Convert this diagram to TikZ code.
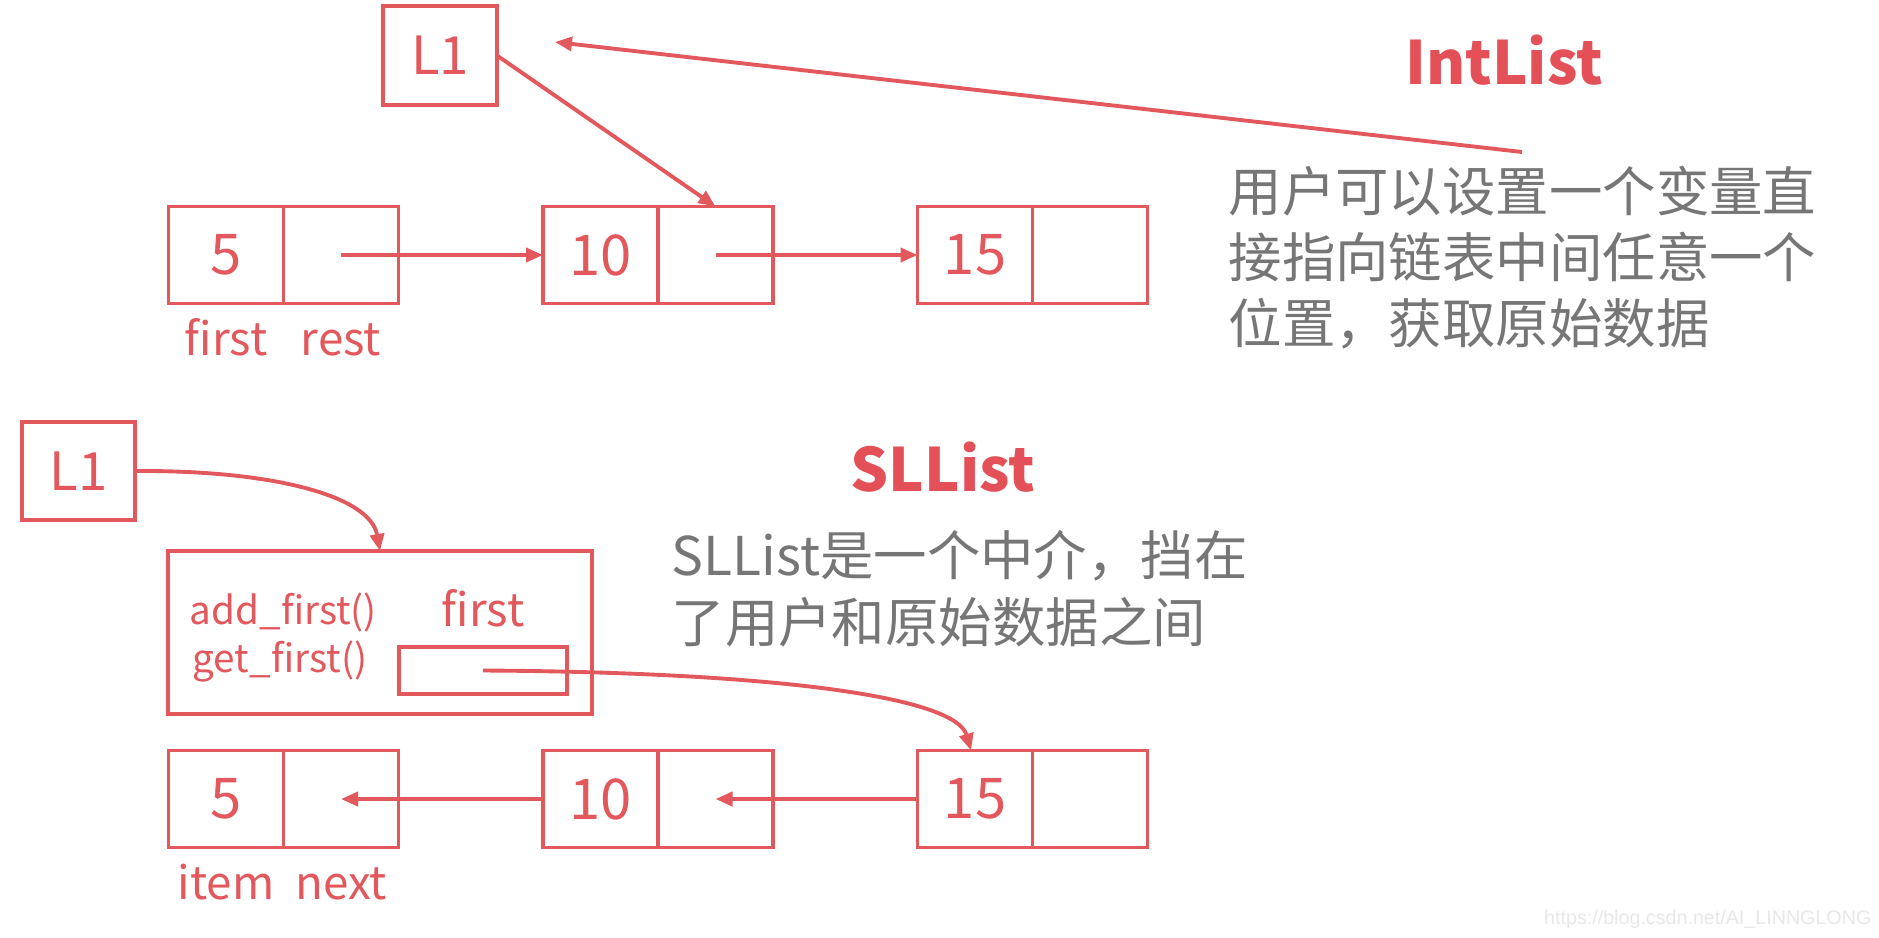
\documentclass[tikz,border=0pt]{standalone}
\usepackage{fontspec}
\setmainfont{Noto Sans CJK SC}
\newfontfamily\urlfont{Liberation Sans}
\usetikzlibrary{positioning,arrows.meta}

\begin{document}
\begin{tikzpicture}[
  cell/.style={draw=lred,line width=0.9pt,minimum width=1.15cm,minimum height=0.97cm,outer sep=0pt,inner sep=0pt,text=lred,font=\fontsize{16}{18}\selectfont},
  lbl/.style={text=lred,inner sep=0pt,text height=9.5pt,text depth=2pt,font=\fontsize{13}{15}\selectfont},
  arr/.style={draw=lred,line width=1.1pt,-{Triangle[length=1.7mm,width=1.4mm]}},
  note/.style={text=ngray,align=left,inner sep=0pt,font=\fontsize{15.2}{18.8}\selectfont},
  title/.style={text=tred,inner sep=0pt,font=\fontsize{17}{20}\selectfont\bfseries}]
% Define colours
\definecolor{lred}{RGB}{226,88,92}
\definecolor{tred}{RGB}{228,80,88}
\definecolor{ngray}{RGB}{118,118,118}

% Fix the canvas
\path[fill=white] (0,0) rectangle (18.79,-9.37);

% IntList: naked recursive nodes
\node[cell,minimum width=1.14cm,minimum height=0.99cm,font=\fontsize{15}{17}\selectfont] (tl1) at (4.40,-0.555) {L1};
\node[cell] (a5v) at (2.26,-2.55) {5};
\node[cell,right=0pt of a5v] (a5p) {};
\node[cell] (a10v) at (6.005,-2.55) {10};
\node[cell,right=0pt of a10v] (a10p) {};
\node[cell] (a15v) at (9.75,-2.55) {15};
\node[cell,right=0pt of a15v] (a15p) {};

% Field names
\node[lbl,below=0.18cm of a5v] (lfirst) {first};
\node[lbl,below=0.18cm of a5p] (lrest) {rest};

% Rest pointers
\draw[arr] (a5p.center) -- (a10v.west);
\draw[arr] (a10p.center) -- (a15v.west);
\draw[arr] (tl1.east) -- (a10p.north);

% Note on IntList
\node[title] (tint) at (15.04,-0.60) {IntList};
\node[note,anchor=north west] (tnote) at (12.28,-1.65) {用户可以设置一个变量直\\接指向链表中间任意一个\\位置，获取原始数据};
\coordinate (nstart) at (15.22,-1.52);
\coordinate (nend) at (5.55,-0.42);
\draw[arr] (nstart) -- (nend);

% SLList: wrapper around the nodes
\node[cell,minimum width=1.13cm,minimum height=0.98cm,font=\fontsize{15}{17}\selectfont] (bl1) at (0.785,-4.71) {L1};
\node[cell,minimum width=4.24cm,minimum height=1.63cm] (wrap) at (3.80,-6.325) {};
\node[lbl,anchor=west,font=\fontsize{11}{13}\selectfont] (addf) at (1.89,-6.11) {add\_first()};
\node[lbl,anchor=west,font=\fontsize{11}{13}\selectfont] (getf) at (1.92,-6.59) {get\_first()};
\node[lbl] (wfirst) at (4.83,-6.13) {first};
\node[cell,minimum width=1.68cm,minimum height=0.47cm] (firstp) at (4.83,-6.705) {};

\node[cell] (b5v) at (2.26,-7.99) {5};
\node[cell,right=0pt of b5v] (b5p) {};
\node[cell] (b10v) at (6.005,-7.99) {10};
\node[cell,right=0pt of b10v] (b10p) {};
\node[cell] (b15v) at (9.75,-7.99) {15};
\node[cell,right=0pt of b15v] (b15p) {};

\node[lbl,below=0.18cm of b5v] (litem) {item};
\node[lbl,below=0.18cm of b5p] (lnext) {next};

% Pointers
\draw[arr] (bl1.east) .. controls (2.7,-4.7) and (3.7,-4.95) .. (wrap.north);
\draw[arr] (firstp.center) .. controls (7.6,-6.72) and (9.55,-6.95) .. ([xshift=-0.04cm]b15v.north);
\draw[arr] (b15v.west) -- (b10p.center);
\draw[arr] (b10v.west) -- (b5p.center);

% Note on SLList
\node[title] (tsl) at (9.43,-4.67) {SLList};
\node[note,anchor=north west] (snote) at (6.71,-5.30) {SLList是一个中介，挡在\\了用户和原始数据之间};

% Watermark
\node[text=black!9,inner sep=0pt,anchor=east,font=\urlfont\fontsize{5.6}{6}\selectfont] (wm) at (18.72,-9.19) {https://blog.csdn.net/AI\_LINNGLONG};
\end{tikzpicture}
\end{document}
